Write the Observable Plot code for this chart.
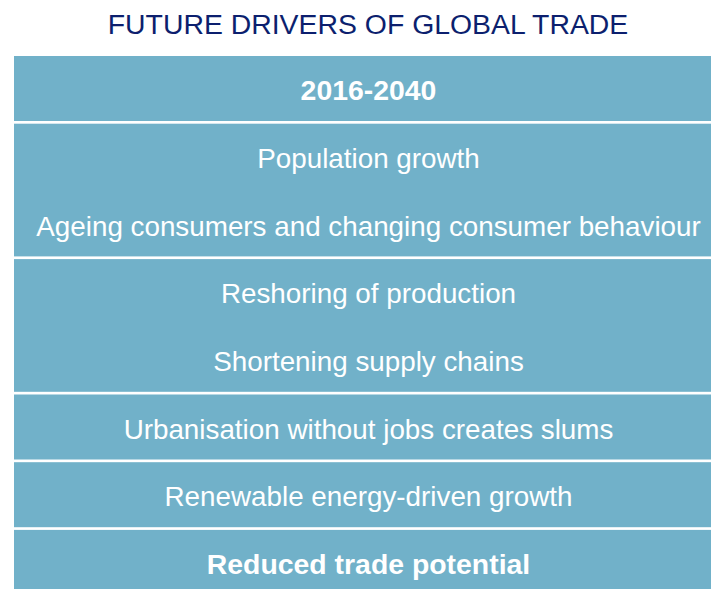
<!DOCTYPE html>
<html>
<head>
<meta charset="utf-8">
<script src="https://cdn.jsdelivr.net/npm/d3@7"></script>
<script src="https://cdn.jsdelivr.net/npm/@observablehq/plot@0.6"></script>
<style>
  html, body { margin: 0; padding: 0; background: #ffffff; overflow: hidden; }
  #title {
    height: 48px; line-height: 48px; width: 736px;
    text-align: center; font-family: "Liberation Sans", Arial, sans-serif;
    font-size: 28.4px; color: #0c1f6e; white-space: nowrap;
  }
  #chart svg { display: block; }
</style>
</head>
<body>
<div id="title">FUTURE DRIVERS OF GLOBAL TRADE</div>
<div id="chart"></div>
<script>
const titleText = "FUTURE DRIVERS OF GLOBAL TRADE";
const headerLabel = "2016-2040";
const driverGroups = [
  ["Population growth", "Ageing consumers and changing consumer behaviour"],
  ["Reshoring of production", "Shortening supply chains"],
  ["Urbanisation without jobs creates slums"],
  ["Renewable energy-driven growth"]
];
const outcomeLabel = "Reduced trade potential";

document.getElementById("title").textContent = titleText;

const groups = [
  {lines: [headerLabel], bold: true},
  ...driverGroups.map(lines => ({lines, bold: false})),
  {lines: [outcomeLabel], bold: true}
];
let start = 0;
const blocks = groups.map(g => {
  const b = {...g, y1: start, y2: start + g.lines.length};
  start = b.y2;
  return b;
});
const totalLines = start;
const lineData = blocks.flatMap(b => b.lines.map((t, i) => ({text: t, y: b.y1 + i + 0.5, bold: b.bold})));

const unit = 67.7;
const font = "'Liberation Sans', Arial, sans-serif";

const chart = Plot.plot({
  width: 711,
  height: 541,
  margin: 0,
  style: {fontFamily: font, background: "transparent"},
  x: {domain: [0, 1], range: [14, 722], axis: null},
  y: {domain: [0, totalLines], range: [8, 8 + totalLines * unit], axis: null},
  marks: [
    Plot.rect(blocks, {x1: 0, x2: 1, y1: "y1", y2: "y2", fill: "#71b1c9", insetBottom: 2.7}),
    Plot.text(lineData.filter(d => !d.bold), {x: 0.5, y: "y", text: "text", fill: "white", fontSize: 27.8, fontFamily: font, dy: 1}),
    Plot.text(lineData.filter(d => d.bold), {x: 0.5, y: "y", text: "text", fill: "white", fontSize: 28.4, fontWeight: "bold", fontFamily: font, dy: 1})
  ]
});
document.getElementById("chart").appendChild(chart);
</script>
</body>
</html>
